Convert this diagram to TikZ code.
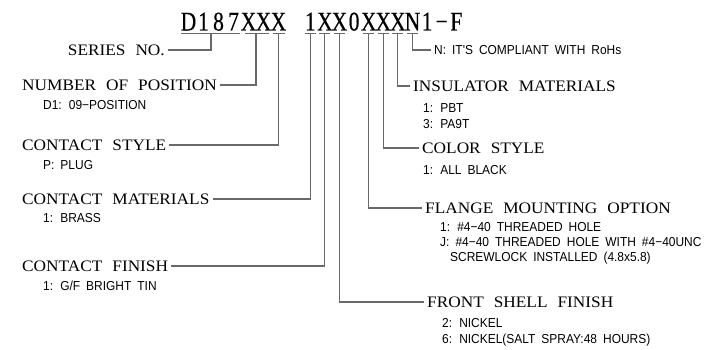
\documentclass[tikz,border=0pt]{standalone}
\usepackage{fontspec}
\setmainfont{Liberation Serif}
\newfontfamily\headfont[FakeStretch=1.08]{Liberation Serif}
\newfontfamily\codefontfam[FakeStretch=0.8,FakeBold=0.3]{Liberation Serif}
\newfontfamily\subfontfam[FakeStretch=0.92]{Liberation Sans}
\usetikzlibrary{calc}
\definecolor{linegray}{RGB}{105,105,105}
\newcommand\myheadstyle{\headfont\fontsize{16}{18}\selectfont\spaceskip=10pt\relax}
\newcommand\mysubstyle{\subfontfam\fontsize{13}{15}\selectfont\spaceskip=6pt\relax}
\newcommand\mycodestyle{\codefontfam\fontsize{27}{30}\selectfont}
\tikzset{
  conn/.style={draw=linegray, line width=1.1pt},
  head/.style={font=\myheadstyle,
    inner xsep=3pt, inner ysep=0pt, text height=10.6pt, text depth=0pt},
  sub/.style={font=\mysubstyle,
    anchor=west, inner sep=0pt, text height=9.3pt, text depth=0pt},
  codech/.style={font=\mycodestyle, anchor=base, inner sep=0pt},
}
\begin{document}
\begin{tikzpicture}[x=1pt,y=-1pt]
\useasboundingbox (0,0) rectangle (720,350);
\fill[white] (0,0) rectangle (720,350);
% code characters
\foreach \ch [count=\i] in {D,1,8,7,X,X,X}
  \node[codech] (a\i) at (173.5+15*\i,30.5) {\ch};
\foreach \ch [count=\i] in {1,X,X,0,X,X,X,N,1,−,F}
  \node[codech] (b\i) at (295.7+14.6*\i,30.5) {\ch};
% tick tops
\coordinate (tS) at ($(a1.base)!0.5!(a4.base)+(0,3)$);
\coordinate (tN) at ($(a5.base)!0.5!(a6.base)+(0,3)$);
\coordinate (tCS) at ($(a7.base)+(0,3)$);
\coordinate (tCM) at ($(b1.base)+(0,3)$);
\coordinate (tCF) at ($(b2.base)+(0,3)$);
\coordinate (tFS) at ($(b3.base)+(0,3)$);
\coordinate (tFL) at ($(b5.base)+(0,3)$);
\coordinate (tCO) at ($(b6.base)+(0,3)$);
\coordinate (tIN) at ($(b7.base)+(0,3)$);
\coordinate (tR) at ($(b8.base)+(0,3)$);
% underlines
\draw[conn] ($(a1.base)+(-7.5,3)$) -- ($(a4.base)+(6.5,3)$);
\draw[conn] ($(a5.base)+(-3.5,3)$) -- ($(a6.base)+(5.5,3)$);
\draw[conn] ($(a7.base)+(-5.5,3)$) -- ($(a7.base)+(6.5,3)$);
\foreach \j in {1,2,3,5,6,7,8}
  \draw[conn] ($(b\j.base)+(-5.5,3)$) -- ($(b\j.base)+(5.5,3)$);
% left headings
\node[head,anchor=east] (hS) at (168,50) {SERIES NO.};
\node[head,anchor=west] (hN) at (19,85) {NUMBER OF POSITION};
\node[sub] (sN) at (43,105) {D1: 09−POSITION};
\node[head,anchor=west] (hCS) at (19,145) {CONTACT STYLE};
\node[sub] (sCS) at (43,165) {P: PLUG};
\node[head,anchor=west] (hCM) at (19,199) {CONTACT MATERIALS};
\node[sub] (sCM) at (43,218) {1: BRASS};
\node[head,anchor=west] (hCF) at (19,266) {CONTACT FINISH};
\node[sub] (sCF) at (43,286) {1: G/F BRIGHT TIN};
% right headings
\node[sub,inner xsep=3pt] (hR) at (431,50) {N: IT'S COMPLIANT WITH RoHs};
\node[head,anchor=west] (hIN) at (410,86) {INSULATOR MATERIALS};
\node[sub] (sIN1) at (423,108) {1: PBT};
\node[sub] (sIN2) at (423,124) {3: PA9T};
\node[head,anchor=west] (hCO) at (419,148) {COLOR STYLE};
\node[sub] (sCO) at (423,170) {1: ALL BLACK};
\node[head,anchor=west] (hFL) at (422,208) {FLANGE MOUNTING OPTION};
\node[sub] (sFL1) at (440,227) {1: \#4−40 THREADED HOLE};
\node[sub] (sFL2) at (440,242) {J: \#4−40 THREADED HOLE WITH \#4−40UNC};
\node[sub] (sFL3) at (450,257) {SCREWLOCK INSTALLED (4.8x5.8)};
\node[head,anchor=west] (hFS) at (424,302) {FRONT SHELL FINISH};
\node[sub] (sFS1) at (442,323) {2: NICKEL};
\node[sub] (sFS2) at (442,339) {6: NICKEL(SALT SPRAY:48 HOURS)};
% connectors
\draw[conn] (tS) |- (hS.east);
\draw[conn] (tN) |- (hN.east);
\draw[conn] (tCS) |- (hCS.east);
\draw[conn] (tCM) |- (hCM.east);
\draw[conn] (tCF) |- (hCF.east);
\draw[conn] (tFS) |- (hFS.west);
\draw[conn] (tFL) |- (hFL.west);
\draw[conn] (tCO) |- (hCO.west);
\draw[conn] (tIN) |- (hIN.west);
\draw[conn] (tR) |- (hR.west);
\end{tikzpicture}
\end{document}
